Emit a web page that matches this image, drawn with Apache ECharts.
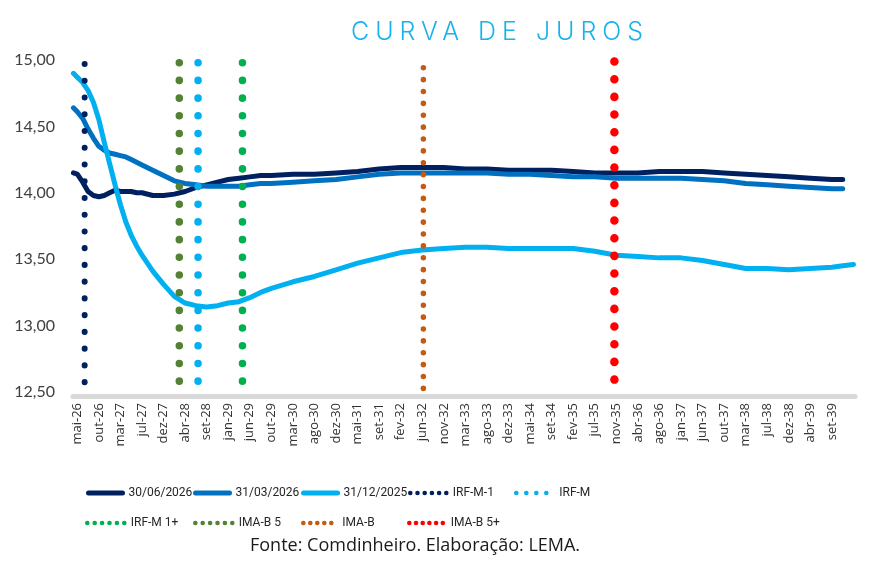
<!DOCTYPE html>
<html>
<head>
<meta charset="utf-8">
<script src="https://cdn.jsdelivr.net/npm/echarts@6/dist/echarts.min.js"></script>
<style>
  html, body { margin: 0; padding: 0; background: #fff; }
  #wrap { position: relative; width: 871px; height: 566px; }
  #chart { width: 871px; height: 566px; }
  #title {
    position: absolute; left: 351px; top: 16px;
    font-family: Inter, Lato, sans-serif; font-weight: 300;
    font-size: 25px; line-height: 30px; letter-spacing: 6px;
    color: #1AB2EC; white-space: nowrap;
  }
</style>
</head>
<body>
<div id="wrap">
  <div id="chart"></div>
  <div id="title">CURVA DE JUROS</div>
</div>
<script>
// x axis tick labels (one every ~4-5 months)
const labels = ['mai-26', 'out-26', 'mar-27', 'jul-27', 'dez-27', 'abr-28', 'set-28', 'jan-29', 'jun-29',
  'out-29', 'mar-30', 'ago-30', 'dez-30', 'mai-31', 'set-31', 'fev-32', 'jun-32', 'nov-32', 'mar-33',
  'ago-33', 'dez-33', 'mai-34', 'set-34', 'fev-35', 'jul-35', 'nov-35', 'abr-36', 'ago-36', 'jan-37',
  'jun-37', 'out-37', 'mar-38', 'jul-38', 'dez-38', 'abr-39', 'set-39'];

// positions along the axis, in label steps
const pos = [-0.18, 0, 0.25, 0.5, 0.75, 1, 1.25, 1.5, 1.75, 2, 2.25, 2.5, 2.75, 3,
  3.5, 4, 4.5, 5, 5.5, 6, 6.5, 7, 7.5, 8, 8.5, 9,
  10, 11, 12, 13, 14, 15, 16, 17, 18, 19, 20, 21, 22, 23, 24, 25, 26, 27, 28, 29, 30, 31, 32, 33, 34, 35,
  35.5, 36];

const curve300626 = [14.15, 14.14, 14.08, 14.01, 13.98, 13.97, 13.98, 14.00, 14.02, 14.01, 14.01, 14.01, 14.00, 14.00,
  13.98, 13.98, 13.99, 14.01, 14.04, 14.06, 14.08, 14.10, 14.11, 14.12, 14.13, 14.13,
  14.14, 14.14, 14.15, 14.16, 14.18, 14.19, 14.19, 14.19, 14.18, 14.18, 14.17, 14.17, 14.17, 14.16, 14.15, 14.15,
  14.15, 14.16, 14.16, 14.16, 14.15, 14.14, 14.13, 14.12, 14.11, 14.10,
  14.10, null];

const curve310326 = [14.64, 14.61, 14.56, 14.48, 14.41, 14.35, 14.32, 14.30, 14.29, 14.28, 14.27, 14.25, 14.23, 14.21,
  14.17, 14.13, 14.09, 14.07, 14.06, 14.05, 14.05, 14.05, 14.05, 14.06, 14.07, 14.07,
  14.08, 14.09, 14.10, 14.12, 14.14, 14.15, 14.15, 14.15, 14.15, 14.15, 14.14, 14.14, 14.13, 14.12, 14.12, 14.11,
  14.11, 14.11, 14.11, 14.10, 14.09, 14.07, 14.06, 14.05, 14.04, 14.03,
  14.03, null];

const curve311225 = [14.90, 14.87, 14.83, 14.77, 14.68, 14.55, 14.38, 14.22, 14.06, 13.91, 13.78, 13.68, 13.60, 13.53,
  13.41, 13.31, 13.22, 13.17, 13.15, 13.14, 13.15, 13.17, 13.18, 13.21, 13.25, 13.28,
  13.33, 13.37, 13.42, 13.47, 13.51, 13.55, 13.57, 13.58, 13.59, 13.59, 13.58, 13.58, 13.58, 13.58, 13.56, 13.53,
  13.52, 13.51, 13.51, 13.49, 13.46, 13.43, 13.43, 13.42, 13.43, 13.44,
  13.45, 13.46];

const curveNames = ['30/06/2026', '31/03/2026', '31/12/2025'];
const curveValues = [curve300626, curve310326, curve311225];
const curveColors = ['#002060', '#0070C0', '#00B0F0'];

// index duration markers (vertical dotted lines)
const markerNames = ['IRF-M-1', 'IRF-M', 'IRF-M 1+', 'IMA-B 5', 'IMA-B', 'IMA-B 5+'];
const markerPos = [0.34, 5.60, 7.66, 4.73, 16.05, 24.91];
const markerTop = [14.97, 14.98, 14.98, 14.98, 14.942, 14.989];
const markerBottom = [12.565, 12.57, 12.57, 12.57, 12.52, 12.565];
const markerColors = ['#002060', '#00B0F0', '#00B050', '#548235', '#C55A11', '#FF0000'];
const markerDot = [6, 7.5, 7.5, 7.5, 5.5, 8.5];
const markerGap = [16.74, 17.69, 17.69, 17.69, 11.875, 17.67];

const chart = echarts.init(document.getElementById('chart'));

const series = [];
curveNames.forEach((name, k) => {
  series.push({
    name: name,
    type: 'line',
    data: pos.map((x, j) => [x, curveValues[k][j]]),
    symbol: 'none',
    showSymbol: false,
    lineStyle: { color: curveColors[k], width: 5, cap: 'round', join: 'round' },
    itemStyle: { color: curveColors[k] },
    z: 2,
  });
});
markerNames.forEach((name, k) => {
  series.push({
    name: name,
    type: 'line',
    data: [[markerPos[k], markerTop[k]], [markerPos[k], markerBottom[k]]],
    symbol: 'none',
    showSymbol: false,
    clip: false,
    lineStyle: { color: markerColors[k], width: markerDot[k], type: [0.1, markerGap[k] - 0.1], cap: 'round' },
    itemStyle: { color: markerColors[k] },
    z: 3,
  });
});

// legend laid out as a grid like the original, one component per item
const legendSlots = [
  { left: 86, top: 486, w: 34, gap: 0 },
  { left: 193, top: 486, w: 34, gap: 0 },
  { left: 301, top: 486, w: 34, gap: 0 },
  { left: 408, top: 486, w: 36.5, gap: 7.2 },
  { left: 514, top: 486, w: 37, gap: 10 },
  { left: 85, top: 516, w: 37.5, gap: 7.4 },
  { left: 193, top: 516, w: 37.5, gap: 7.4 },
  { left: 301, top: 516, w: 33, gap: 7 },
  { left: 407, top: 516, w: 35.5, gap: 6.7 },
];
const legendNames = curveNames.concat(markerNames);
const legends = legendNames.map((name, k) => {
  const s = legendSlots[k];
  return {
    data: [name],
    left: s.left,
    top: s.top,
    padding: 0,
    itemWidth: s.w,
    itemHeight: 10,
    itemGap: 0,
    selectedMode: false,
    itemStyle: { color: 'rgba(0,0,0,0)', borderWidth: 0, opacity: 0 },
    textStyle: { fontSize: 12, color: '#262626', fontFamily: 'Roboto, sans-serif', lineHeight: 14, padding: [0, 0, 0, 1] },
    lineStyle: s.gap ? { width: 4.5, type: [0.1, s.gap - 0.1], cap: 'round' } : { width: 5, cap: 'round' },
  };
});

chart.setOption({
  backgroundColor: '#ffffff',
  animation: false,
  title: [{
    text: 'Fonte: Comdinheiro. Elaboração: LEMA.',
    left: 250,
    top: 537,
    padding: 0,
    textStyle: { fontSize: 18, fontWeight: 'normal', color: '#1a1a1a', fontFamily: "'Open Sans', sans-serif" },
  }],
  legend: legends,
  grid: { left: 73, right: 16, top: 60, bottom: 174, containLabel: false, outerBoundsMode: 'none' },
  xAxis: {
    type: 'value',
    min: -0.2,
    max: 36.07,
    offset: 4,
    axisLine: { show: true, lineStyle: { color: '#D9D9D9', width: 5 } },
    axisTick: { show: false },
    splitLine: { show: false },
    axisLabel: {
      customValues: labels.map((_, i) => i),
      formatter: (v) => labels[Math.round(v)] || '',
      rotate: 90,
      margin: 7,
      fontSize: 13,
      color: '#333333',
      fontFamily: "'Open Sans', sans-serif",
    },
  },
  yAxis: {
    type: 'value',
    min: 12.5,
    max: 15,
    interval: 0.5,
    axisLine: { show: false },
    axisTick: { show: false },
    splitLine: { show: false },
    axisLabel: {
      formatter: (v) => v.toFixed(2).replace('.', ','),
      fontSize: 16,
      color: '#404040',
      fontFamily: 'Lato, sans-serif',
      margin: 18,
    },
  },
  series: series,
});
</script>
</body>
</html>
